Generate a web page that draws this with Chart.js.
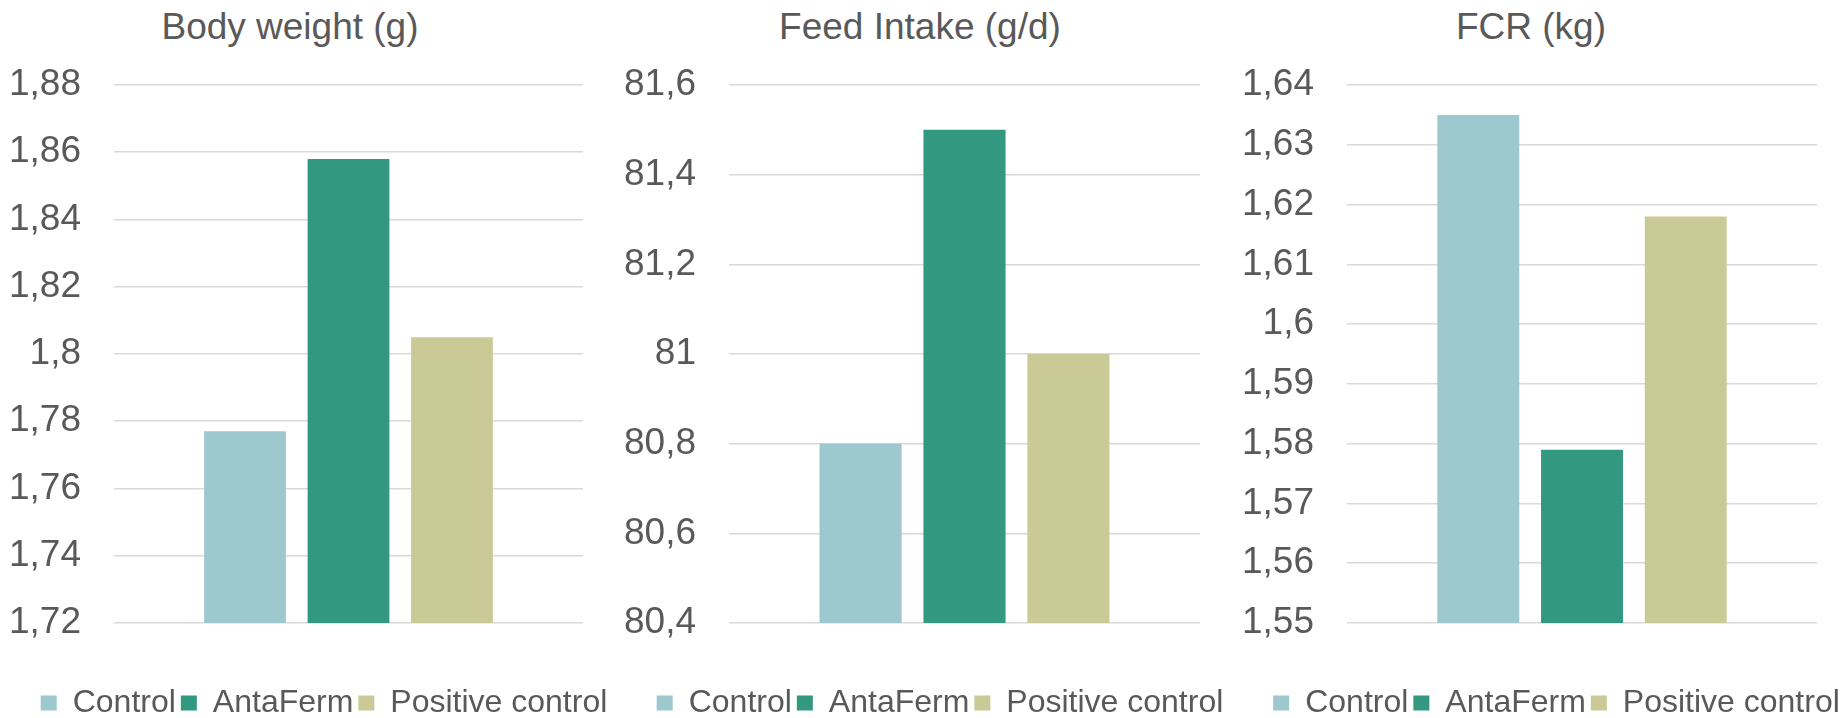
<!DOCTYPE html>
<html>
<head>
<meta charset="utf-8">
<script src="https://cdn.jsdelivr.net/npm/chart.js@4.4.1/dist/chart.umd.min.js"></script>
<style>
  html, body { margin: 0; padding: 0; width: 1841px; height: 718px; overflow: hidden; background: #ffffff; }
  .panel { position: absolute; top: 0; }
  .title { position: absolute; top: 9px; width: 600px; text-align: center; font-family: "Liberation Sans", Arial, sans-serif; font-size: 37px; line-height: 36px; color: #595959; white-space: nowrap; }
</style>
</head>
<body>
<div class="title" style="left:-10px">Body weight (g)</div>
<div class="title" style="left:620px">Feed Intake (g/d)</div>
<div class="title" style="left:1231px">FCR (kg)</div>
<canvas id="c1" class="panel" width="648" height="729" style="left:0px"></canvas>
<canvas id="c2" class="panel" width="660" height="729" style="left:610px"></canvas>
<canvas id="c3" class="panel" width="641" height="729" style="left:1236px"></canvas>
<script>
const categories = [''];
const seriesNames = ['Control', 'AntaFerm', 'Positive control'];
const seriesColors = ['#9DC8CE', '#32987F', '#CACA96'];

const bodyWeight = [1.777, 1.858, 1.805];
const feedIntake = [80.8, 81.5, 81.0];
const fcr = [1.635, 1.579, 1.618];

const bodyWeightTicks = ['1,72', '1,74', '1,76', '1,78', '1,8', '1,82', '1,84', '1,86', '1,88'];
const feedIntakeTicks = ['80,4', '80,6', '80,8', '81', '81,2', '81,4', '81,6'];
const fcrTicks = ['1,55', '1,56', '1,57', '1,58', '1,59', '1,6', '1,61', '1,62', '1,63', '1,64'];

const FONT = '"Liberation Sans", Arial, sans-serif';
const TEXT = '#595959';

function makeChart(id, values, tickLabels, min, max, step, leftW, rightW) {
  const datasets = seriesNames.map((name, i) => ({
    label: name,
    data: [values[i]],
    backgroundColor: seriesColors[i],
    borderWidth: 0,
    categoryPercentage: 0.662,
    barPercentage: 0.79
  }));
  return new Chart(document.getElementById(id), {
    type: 'bar',
    data: { labels: categories, datasets },
    options: {
      responsive: false,
      animation: false,
      layout: { padding: { top: 85, left: 0, right: 0, bottom: 0 } },
      plugins: {
        title: { display: false },
        tooltip: { enabled: false },
        legend: {
          display: true,
          position: 'bottom',
          labels: {
            boxWidth: 16,
            boxHeight: 15,
            padding: 5,
            color: TEXT,
            font: { family: FONT, size: 32 }
          }
        }
      },
      scales: {
        x: {
          display: true,
          grid: { display: false },
          border: { display: false },
          ticks: { display: false },
          afterFit: (s) => { s.height = 59; }
        },
        y: {
          position: 'left',
          min: min,
          max: max,
          ticks: {
            stepSize: step,
            padding: 33,
            color: TEXT,
            font: { family: FONT, size: 37 },
            autoSkip: false,
            callback: (v, i) => tickLabels[i]
          },
          grid: { color: '#d9d9d9', lineWidth: 1.5, drawTicks: false },
          border: { display: false },
          afterFit: (s) => { s.width = leftW; }
        },
        yr: {
          type: 'linear',
          position: 'right',
          display: true,
          grid: { display: false },
          border: { display: false },
          ticks: { display: false },
          afterFit: (s) => { s.width = rightW; }
        }
      }
    }
  });
}

makeChart('c1', bodyWeight, bodyWeightTicks, 1.72, 1.88, 0.02, 114, 65);
makeChart('c2', feedIntake, feedIntakeTicks, 80.4, 81.6, 0.2, 119, 70);
makeChart('c3', fcr, fcrTicks, 1.55, 1.64, 0.01, 111, 60);
</script>
</body>
</html>
